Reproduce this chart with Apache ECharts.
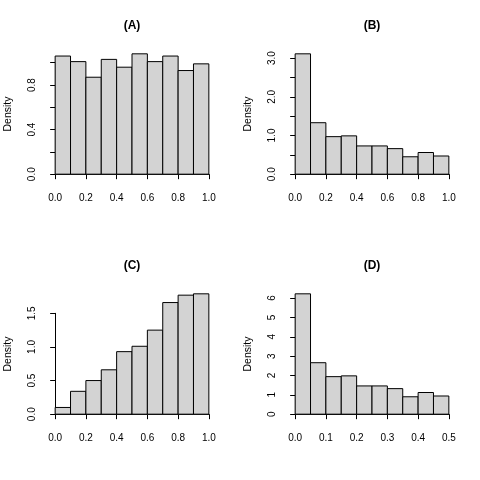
<!DOCTYPE html>
<html><head><meta charset="utf-8">
<script src="https://cdn.jsdelivr.net/npm/echarts@6/dist/echarts.min.js"></script>
<style>html,body{margin:0;padding:0;background:#fff}#c{width:480px;height:480px}</style>
</head><body><div id="c"></div>
<script>
// ---- data ----
const panelTitles = ['(A)', '(B)', '(C)', '(D)'];
const breaksAC = [0, 0.1, 0.2, 0.3, 0.4, 0.5, 0.6, 0.7, 0.8, 0.9, 1.0];
const breaksD = [0, 0.05, 0.1, 0.15, 0.2, 0.25, 0.3, 0.35, 0.4, 0.45, 0.5];
const densA = [1.06, 1.01, 0.87, 1.03, 0.96, 1.08, 1.01, 1.06, 0.93, 0.99];
const densB = [3.11, 1.33, 0.97, 0.99, 0.73, 0.73, 0.66, 0.45, 0.56, 0.47];
const densC = [0.10, 0.34, 0.50, 0.66, 0.93, 1.01, 1.25, 1.66, 1.77, 1.79];
const densD = [6.22, 2.66, 1.94, 1.98, 1.46, 1.46, 1.32, 0.90, 1.12, 0.94];
const yLabelsA = ['0.0', '0.4', '0.8'];
const yLabelsB = ['0.0', '1.0', '2.0', '3.0'];
const yLabelsC = ['0.0', '0.5', '1.0', '1.5'];
const yLabelsD = ['0', '1', '2', '3', '4', '5', '6'];
const xLabelsAC = ['0.0', '0.2', '0.4', '0.6', '0.8', '1.0'];
const xLabelsD = ['0.0', '0.1', '0.2', '0.3', '0.4', '0.5'];

const panels = [
  {title: panelTitles[0], breaks: breaksAC, dens: densA, yLab: yLabelsA, xLab: xLabelsAC, xMax: 1, xInt: 0.2, yMax: 1.0, yInt: 0.2, yDec: 1, px: 0, py: 0},
  {title: panelTitles[1], breaks: breaksAC, dens: densB, yLab: yLabelsB, xLab: xLabelsAC, xMax: 1, xInt: 0.2, yMax: 3.0, yInt: 0.5, yDec: 1, px: 240, py: 0},
  {title: panelTitles[2], breaks: breaksAC, dens: densC, yLab: yLabelsC, xLab: xLabelsAC, xMax: 1, xInt: 0.2, yMax: 1.5, yInt: 0.5, yDec: 1, px: 0, py: 240},
  {title: panelTitles[3], breaks: breaksD, dens: densD, yLab: yLabelsD, xLab: xLabelsD, xMax: 0.5, xInt: 0.1, yMax: 6, yInt: 1, yDec: 0, px: 240, py: 240}
];

const FONT = 'Liberation Sans, Arial, Helvetica, sans-serif';
// R plot region inside each 240x240 panel
const plotL = 49, plotR = 215, plotT = 49, plotB = 179;
const ext = 0.04 / 1.08;

const grids = [], xAxes = [], yAxes = [], series = [], titles = [], graphics = [];
panels.forEach((p, i) => {
  const w = plotR - plotL, h = plotB - plotT;
  const dataLeft = p.px + plotL + w * ext;
  const dataW = w * (1 - 2 * ext);
  const zeroY = p.py + plotB - h * ext;
  const dataH = h * (1 - 2 * ext);
  const dMax = Math.max(...p.dens);
  const gH = dataH * p.yMax / dMax;
  grids.push({left: dataLeft, top: zeroY - gH, width: dataW, height: gH, containLabel: false});
  xAxes.push({
    type: 'value', gridIndex: i, min: 0, max: p.xMax, interval: p.xInt,
    offset: h * ext, splitLine: {show: false},
    axisLine: {show: true, lineStyle: {color: '#000', width: 1}},
    axisTick: {show: true, inside: false, length: 5, lineStyle: {color: '#000'}},
    axisLabel: {color: '#000', fontFamily: FONT, fontSize: 10, margin: 14,
      formatter: v => { const s = v.toFixed(1); return p.xLab.includes(s) ? s : ''; }}
  });
  yAxes.push({
    type: 'value', gridIndex: i, min: 0, max: p.yMax, interval: p.yInt,
    offset: w * ext, splitLine: {show: false},
    axisLine: {show: true, lineStyle: {color: '#000', width: 1}},
    axisTick: {show: true, inside: false, length: 5, lineStyle: {color: '#000'}},
    axisLabel: {color: '#000', fontFamily: FONT, fontSize: 10, margin: 12, rotate: 90,
      formatter: v => { const s = v.toFixed(p.yDec); return p.yLab.includes(s) ? s : ''; }}
  });
  const data = p.dens.map((d, k) => [p.breaks[k], p.breaks[k + 1], d]);
  series.push({
    type: 'custom', xAxisIndex: i, yAxisIndex: i, clip: false, data: data,
    encode: {x: [0, 1], y: 2},
    renderItem: (params, api) => {
      const a = api.coord([api.value(0), api.value(2)]);
      const b = api.coord([api.value(1), 0]);
      return {type: 'rect', shape: {x: a[0], y: a[1], width: b[0] - a[0], height: b[1] - a[1]},
        style: {fill: '#d3d3d3', stroke: '#000', lineWidth: 1}};
    }
  });
  titles.push({text: p.title, left: p.px + (plotL + plotR) / 2, top: p.py + 20, textAlign: 'center', padding: 0,
    textStyle: {fontFamily: FONT, fontSize: 12, fontWeight: 'bold', color: '#000'}});
  graphics.push({type: 'text', x: p.px + 8, y: p.py + (plotT + plotB) / 2, rotation: Math.PI / 2,
    style: {text: 'Density', fontFamily: FONT, fontSize: 10.5, fill: '#000', align: 'center', verticalAlign: 'middle'}});
});

const chart = echarts.init(document.getElementById('c'), null, {renderer: 'canvas'});
chart.setOption({
  animation: false, backgroundColor: '#fff',
  title: titles, grid: grids, xAxis: xAxes, yAxis: yAxes, series: series, graphic: graphics
});
</script></body></html>
